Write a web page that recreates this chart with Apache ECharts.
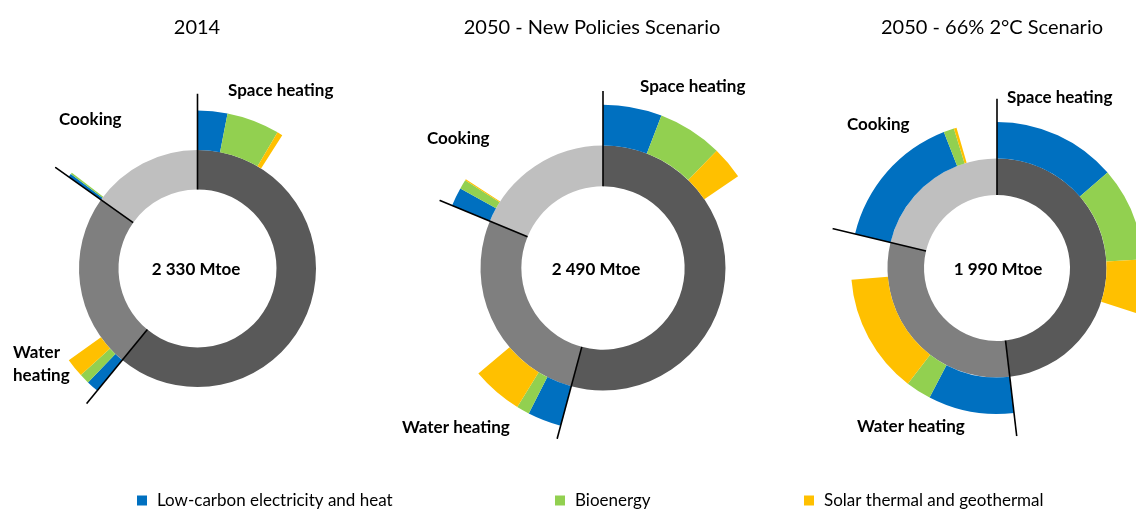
<!DOCTYPE html>
<html><head><meta charset="utf-8">
<script src="https://cdn.jsdelivr.net/npm/echarts@6/dist/echarts.min.js"></script>
<style>html,body{margin:0;padding:0;background:#fff}#c{width:1136px;height:509px}</style>
</head><body><div id="c"></div>
<script>
// ---- data (Mtoe) ----
const chartTitles = ['2014', '2050 - New Policies Scenario', '2050 - 66% 2°C Scenario'];
const centerLabels = ['2 330 Mtoe', '2 490 Mtoe', '1 990 Mtoe'];
const endUses = ['Space heating', 'Water heating', 'Cooking'];
const spaceHeating = [1420, 1349, 958];
const waterHeating = [557, 674, 609];
const cooking = [353, 467, 423];
const sources = ['Low-carbon electricity and heat', 'Bioenergy', 'Solar thermal and geothermal'];
const lowCarbonSpace = [71, 145, 272];
const lowCarbonWater = [29, 83, 189];
const lowCarbonCooking = [8, 46, 305];
const bioenergySpace = [126, 160, 207];
const bioenergyWater = [24, 32, 56];
const bioenergyCooking = [4, 23, 23];
const solarSpace = [13, 81, 118];
const solarWater = [45, 125, 264];
const solarCooking = [0, 3, 6];

// ---- layout / style ----
const centers = [[197.5, 268.5], [603, 268], [997, 268]];
const titleX = [197, 592, 992];
const centerLabelX = [196, 596, 998];
const baseOuterR = 158, baseTotal = 2330;
const lineReach = [1.107, 1.084, 1.16];
const greys = ['#595959', '#7f7f7f', '#bfbfbf'];
const srcColors = ['#0070c0', '#92d050', '#ffc000'];
const FONT = 'Lato, "Open Sans", sans-serif';
const sectorLabelPos = [
  [[228, 91, 'Space heating'], [59, 120, 'Cooking'], [13, 364, 'Water\nheating']],
  [[640, 87, 'Space heating'], [427, 139, 'Cooking'], [402, 428, 'Water heating']],
  [[1007, 98, 'Space heating'], [847, 125, 'Cooking'], [857, 427, 'Water heating']]
];
const legendLeft = [132, 550, 799];

const series = [], polar = [], angleAxis = [], radiusAxis = [], graphic = [];
for (let i = 0; i < 3; i++) {
  const sec = [spaceHeating[i], waterHeating[i], cooking[i]];
  const total = sec[0] + sec[1] + sec[2];
  const R = baseOuterR * Math.sqrt(total / baseTotal);
  const src = [
    [lowCarbonSpace[i], bioenergySpace[i], solarSpace[i]],
    [lowCarbonWater[i], bioenergyWater[i], solarWater[i]],
    [lowCarbonCooking[i], bioenergyCooking[i], solarCooking[i]]
  ];
  series.push({
    type: 'pie', center: centers[i], radius: [R * 0.5, R * 0.75],
    startAngle: 90, clockwise: true, silent: true, animation: false,
    label: { show: false }, labelLine: { show: false },
    itemStyle: { borderWidth: 0 },
    data: sec.map((v, k) => ({ name: endUses[k], value: v, itemStyle: { color: greys[k] } }))
  });
  const outer = [];
  sec.forEach((v, k) => {
    let used = 0;
    src[k].forEach((sv, j) => {
      used += sv;
      outer.push({ name: sources[j], value: sv, itemStyle: { color: srcColors[j] } });
    });
    outer.push({ name: 'gap', value: v - used, itemStyle: { color: 'rgba(0,0,0,0)' } });
  });
  series.push({
    type: 'pie', center: centers[i], radius: [R * 0.75, R],
    startAngle: 90, clockwise: true, silent: true, animation: false,
    label: { show: false }, labelLine: { show: false },
    itemStyle: { borderWidth: 0 }, data: outer
  });
  const lineR = R * lineReach[i];
  polar.push({ center: centers[i], radius: lineR });
  angleAxis.push({ polarIndex: i, type: 'value', min: 0, max: total, startAngle: 90, clockwise: true, show: false });
  radiusAxis.push({ polarIndex: i, type: 'value', min: 0, max: lineR, show: false });
  const bounds = [0, sec[0], sec[0] + sec[1]];
  bounds.forEach(b => {
    series.push({
      type: 'line', coordinateSystem: 'polar', polarIndex: i, symbol: 'none', silent: true, animation: false,
      z: 10, lineStyle: { color: '#000', width: 1.6 },
      data: [[R * 0.5, b], [lineR, b]]
    });
  });
  graphic.push({ type: 'text', style: { x: titleX[i], y: 28, text: chartTitles[i], font: '20px ' + FONT, fill: '#000', textAlign: 'center', textVerticalAlign: 'middle' } });
  graphic.push({ type: 'text', style: { x: centerLabelX[i], y: 270, text: centerLabels[i], font: 'bold 17px ' + FONT, fill: '#000', textAlign: 'center', textVerticalAlign: 'middle' } });
  sectorLabelPos[i].forEach(p => {
    graphic.push({ type: 'text', style: { x: p[0], y: p[1], text: p[2], font: 'bold 17px ' + FONT, fill: '#000', textAlign: 'left', textVerticalAlign: 'middle', lineHeight: 23 } });
  });
}

const legend = sources.map((s, j) => ({
  data: [s], left: legendLeft[j], top: 487, itemWidth: 10, itemHeight: 10, icon: 'rect',
  selectedMode: false, textStyle: { fontFamily: FONT, fontSize: 17, color: '#000', padding: [0, 0, 0, 5] }
}));

const chart = echarts.init(document.getElementById('c'), null, { renderer: 'canvas' });
chart.setOption({ backgroundColor: '#fff', animation: false, legend, polar, angleAxis, radiusAxis, series, graphic });
</script></body></html>
